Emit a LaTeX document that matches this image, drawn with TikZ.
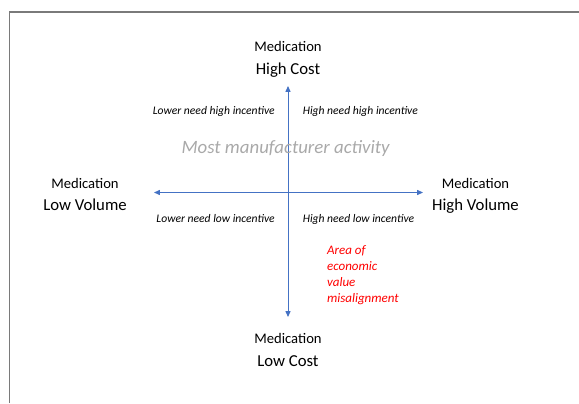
\documentclass[tikz,border=0pt]{standalone}
\usepackage{fontspec}
\setmainfont{Carlito}
\usepackage{xcolor}
\usetikzlibrary{arrows.meta, positioning, calc}
\definecolor{axisblue}{HTML}{4472C4}
\definecolor{framegray}{HTML}{7A7A7A}
\definecolor{activitygray}{HTML}{A9A9A9}
\tikzset{
	frame/.style={draw=framegray, line width=1.1pt}
}

\begin{document}
\begin{tikzpicture}[
	axis/.style={draw=axisblue, line width=0.7pt, {Triangle[length=4.2pt, width=3.6pt]}-{Triangle[length=4.2pt, width=3.6pt]}},
	heading/.style={font=\fontsize{10.4}{12}\selectfont, inner sep=0pt, anchor=base},
	extreme/.style={font=\fontsize{11.9}{14}\selectfont, inner sep=0pt, anchor=base},
	quadrant/.style={font=\fontsize{8.25}{10}\selectfont\itshape, inner sep=0pt},
	>={Triangle}
	]
	
	\useasboundingbox (0,0) rectangle (14.475,10.075);
	
	% cropped frame (top and left edges only)
	\draw[frame] (0.2375,0) -- (0.2375,9.775) -- (14.475,9.775);
	
	% Axis end points
	\coordinate (axis_center) at (7.2,5.2625);
	\coordinate (cost_top) at (7.2,7.925);
	\coordinate (cost_bottom) at (7.2,2.15);
	\coordinate (volume_left) at (3.85,5.2625);
	\coordinate (volume_right) at (10.575,5.2625);
	
	% Axes
	\draw[axis] (cost_bottom) -- (cost_top);
	\draw[axis] (volume_left) -- (volume_right);
	
	% Axis end labels
	\node[heading] (high_cost_title) at (7.2,8.79) {Medication};
	\node[extreme] (high_cost) at (7.2,8.2125) {High Cost};
	\node[heading] (low_cost_title) at (7.2,1.5) {Medication};
	\node[extreme] (low_cost) at (7.2,0.925) {Low Cost};
	\node[heading] (low_volume_title) at (2.125,5.35) {Medication};
	\node[extreme] (low_volume) at (2.125,4.8125) {Low Volume};
	\node[heading] (high_volume_title) at (11.8875,5.35) {Medication};
	\node[extreme] (high_volume) at (11.8875,4.8125) {High Volume};
	
	% Quadrant labels
	\node[quadrant, anchor=base east] (lower_need_high_incentive) at (6.875,7.2) {Lower need high incentive};
	\node[quadrant, anchor=base west] (high_need_high_incentive) at (7.5625,7.2) {High need high incentive};
	\node[quadrant, anchor=base east] (lower_need_low_incentive) at (6.875,4.5) {Lower need low incentive};
	\node[quadrant, anchor=base west] (high_need_low_incentive) at (7.5625,4.5) {High need low incentive};
	
	% Annotations
	\node[font=\fontsize{13.4}{16}\selectfont\itshape, text=activitygray, inner sep=0pt, anchor=base] (manufacturer_activity) at (7.14,6.23) {Most manufacturer activity};
	\node[font=\fontsize{9.25}{11.4}\selectfont\itshape, text=red, align=left, inner sep=0pt, anchor=north west] (misalignment_area) at (8.17,3.95) {Area of\\economic\\value\\misalignment};
	
\end{tikzpicture}
\end{document}
